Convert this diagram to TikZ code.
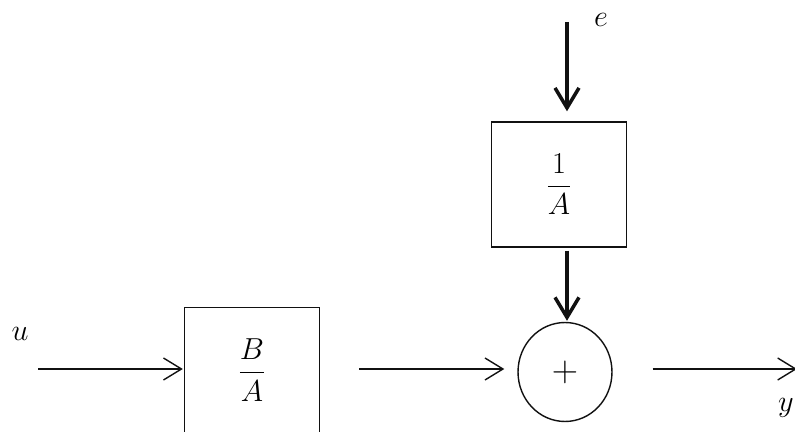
\documentclass[tikz,border=0pt]{standalone}
\usepackage{amsmath,amssymb}
\usepackage{tikz}
\usetikzlibrary{arrows.meta,positioning,calc,shapes.geometric}
\definecolor{Ink}{HTML}{111111}
\tikzset{
  >={Straight Barb[length=3.6mm,width=4.4mm,line width=.8pt]},
  blk/.style={rectangle,draw=Ink,line width=.8pt,fill=white,minimum width=2.7cm,minimum height=2.5cm,inner sep=0pt,font=\fontsize{17}{20}\selectfont},
  sumnode/.style={ellipse,draw=Ink,line width=.8pt,minimum width=1.88cm,minimum height=1.98cm,inner sep=0pt,font=\fontsize{20}{24}\selectfont},
  sig/.style={->,line width=.8pt,draw=Ink},
  thicksig/.style={-{Straight Barb[length=4mm,width=4.8mm,line width=2pt]},line width=2pt,draw=Ink},
  lab/.style={font=\fontsize{17}{20}\selectfont,inner sep=0pt}
}

\begin{document}
\begin{tikzpicture}[x=0.02cm,y=-0.02cm]
        \useasboundingbox (0,0) rectangle (795,432);
        \node[blk] (noise) at (559,184.5) {$\dfrac{1}{A}$};
        \node[blk] (plant) at (252,370) {$\dfrac{B}{A}$};
        \node[sumnode] (sum) at (565,372) {$+$};
        \coordinate (ein) at (567,22);
        \coordinate (uin) at (38,369);
        \coordinate (yout) at (797,369);
        \node[lab] (elab) at (601,20) {$e$};
        \node[lab] (ulab) at (20,334) {$u$};
        \node[lab] (ylab) at (786,408) {$y$};
        \draw[thicksig,shorten >=0.2cm] (ein)--(ein|-noise.north);
        \draw[thicksig,shorten <=0.06cm,shorten >=0.02cm] (ein|-noise.south)--(ein|-sum.north);
        \draw[sig,shorten >=0.02cm] (uin)--(uin-|plant.west);
        \draw[sig,shorten <=0.78cm,shorten >=0.26cm] (plant.east|-uin)--(uin-|sum.west);
        \draw[sig,shorten <=0.8cm] (uin-|sum.east)--(yout);
      \end{tikzpicture}
\end{document}
